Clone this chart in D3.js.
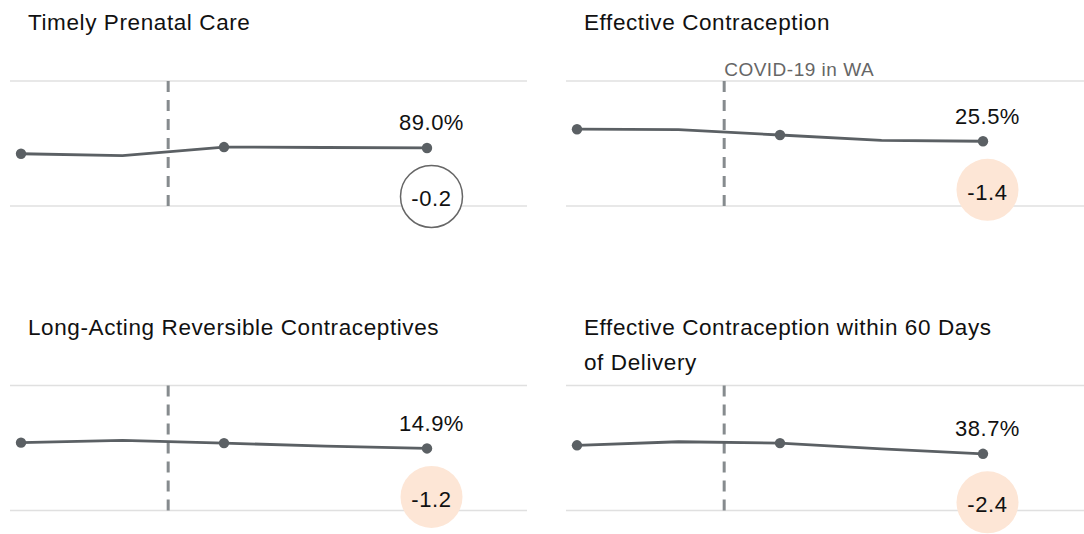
<!DOCTYPE html>
<html>
<head>
<meta charset="utf-8">
<script src="https://cdn.jsdelivr.net/npm/d3@7"></script>
<style>
  html, body { margin: 0; padding: 0; background: #fff; }
  svg { display: block; font-family: "Liberation Sans", Arial, Helvetica, sans-serif; }
</style>
</head>
<body>
<svg id="chart" width="1084" height="534"></svg>
<script>
// Measure titles (each entry is a list of title lines)
const titles = [
  ["Timely Prenatal Care"],
  ["Effective Contraception"],
  ["Long-Acting Reversible Contraceptives"],
  ["Effective Contraception within 60 Days", "of Delivery"]
];

// Five measurement periods per measure (rates in %)
const periods = [0, 1, 2, 3, 4];
const prenatalCare = [87.7, 87.3, 89.2, 89.1, 89.0];
const effectiveContraception = [28.2, 28.1, 26.9, 25.7, 25.5];
const larc = [16.2, 16.7, 16.1, 15.4, 14.9];
const postpartumContraception = [40.6, 41.4, 41.1, 39.8, 38.7];
const seriesList = [prenatalCare, effectiveContraception, larc, postpartumContraception];

// Periods that carry a marker dot
const markedPeriods = [0, 2, 4];

// Change in percentage points shown in the badge, and whether it is flagged
const changes = [-0.2, -1.4, -1.2, -2.4];
const flagged = [false, true, true, true];

// Vertical range of each small chart (in %)
const yDomains = [[76, 104], [11, 39], [1, 29], [26, 54]];

// Onset of COVID-19 in Washington, on the period axis
const covidPosition = 1.45;
const covidLabel = "COVID-19 in WA";

const svg = d3.select("#chart");

const cols = [{ x0: 10, x1: 527 }, { x0: 566, x1: 1084 }];
const rows = [{ titleY: 30, top: 81, bottom: 206 }, { titleY: 335, top: 385.5, bottom: 510.5 }];

const lineColor = "#5b6064";
const fmtPct = d => d.toFixed(1) + "%";
const fmtChange = d => d.toFixed(1);

seriesList.forEach((values, i) => {
  const col = cols[i % 2];
  const row = rows[Math.floor(i / 2)];
  const g = svg.append("g");

  const x = d3.scaleLinear().domain([0, periods.length - 1]).range([col.x0 + 11, col.x0 + 417]);
  const y = d3.scaleLinear().domain(yDomains[i]).range([row.bottom, row.top]);

  // title
  const title = g.append("text")
    .attr("x", col.x0 + 18)
    .attr("y", row.titleY)
    .attr("fill", "#111")
    .style("font-size", "22.5px")
    .style("letter-spacing", "0.6px");
  titles[i].forEach((line, k) => {
    title.append("tspan").attr("x", col.x0 + 18).attr("dy", k === 0 ? 0 : 35).text(line);
  });

  // top and bottom grid lines at the ends of the y domain
  g.selectAll("line.grid")
    .data(yDomains[i])
    .join("line")
    .attr("class", "grid")
    .attr("x1", col.x0).attr("x2", col.x1)
    .attr("y1", d => y(d)).attr("y2", d => y(d))
    .attr("stroke", "#e0e0e0")
    .attr("stroke-width", 1.5);

  // COVID-19 marker
  g.append("line")
    .attr("x1", x(covidPosition)).attr("x2", x(covidPosition))
    .attr("y1", y(yDomains[i][1])).attr("y2", y(yDomains[i][0]))
    .attr("stroke", "#868b8e")
    .attr("stroke-width", 3)
    .attr("stroke-dasharray", "11,8");

  if (i === 1) {
    g.append("text")
      .attr("x", x(covidPosition))
      .attr("y", row.top - 5)
      .attr("fill", "#666")
      .style("font-size", "19px")
      .style("letter-spacing", "0.5px")
      .text(covidLabel);
  }

  // trend line
  g.append("path")
    .datum(periods)
    .attr("d", d3.line().x(p => x(p)).y(p => y(values[p])))
    .attr("fill", "none")
    .attr("stroke", lineColor)
    .attr("stroke-width", 2.8);

  g.selectAll("circle.dot")
    .data(markedPeriods)
    .join("circle")
    .attr("class", "dot")
    .attr("cx", p => x(p))
    .attr("cy", p => y(values[p]))
    .attr("r", 5.2)
    .attr("fill", lineColor);

  const last = periods[periods.length - 1];
  const lx = x(last) + 4.5;
  const ly = y(values[last]);

  // latest value
  g.append("text")
    .attr("x", lx)
    .attr("y", ly - 17.5)
    .attr("text-anchor", "middle")
    .attr("fill", "#111")
    .style("font-size", "22px")
    .style("letter-spacing", "0.5px")
    .text(fmtPct(values[last]));

  // change badge
  g.append("circle")
    .attr("cx", lx)
    .attr("cy", ly + 48.5)
    .attr("r", 31)
    .attr("fill", flagged[i] ? "#fde6d6" : "#fff")
    .attr("stroke", flagged[i] ? "none" : "#666")
    .attr("stroke-width", 1.5);

  g.append("text")
    .attr("x", lx)
    .attr("y", ly + 58.5)
    .attr("text-anchor", "middle")
    .attr("fill", "#111")
    .style("font-size", "22px")
    .style("letter-spacing", "0.6px")
    .text(fmtChange(changes[i]));
});
</script>
</body>
</html>
